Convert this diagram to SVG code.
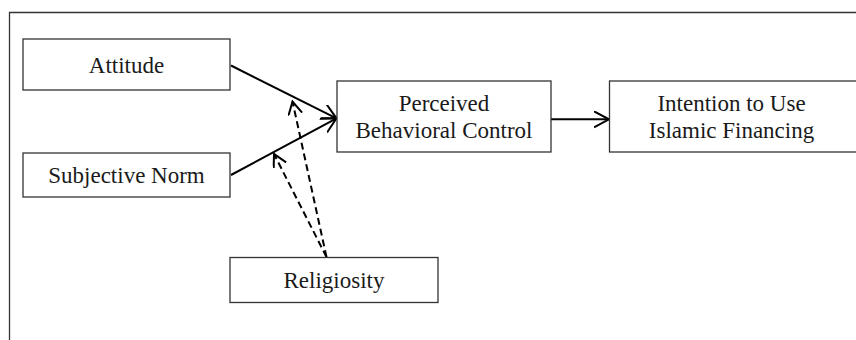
<svg xmlns="http://www.w3.org/2000/svg" width="856" height="340" viewBox="0 0 856 340">
<style>
.box{fill:#fff;stroke:#333;stroke-width:1.3}
.lbl{font-family:"Liberation Serif","Times New Roman",serif;font-size:23px;fill:#1a1a1a;text-anchor:middle}
.edge{fill:none;stroke:#000;stroke-width:2}
.dash{fill:none;stroke:#000;stroke-width:2;stroke-dasharray:7 4}
</style>
<defs>
<marker id="arr" markerUnits="userSpaceOnUse" markerWidth="20" markerHeight="20" refX="15" refY="8" orient="auto">
<path d="M0,0 L15,8 L0,16" fill="none" stroke="#000" stroke-width="2"/>
</marker>
<marker id="arrs" markerUnits="userSpaceOnUse" markerWidth="18" markerHeight="18" refX="13" refY="7" orient="auto">
<path d="M0,0 L13,7 L0,14" fill="none" stroke="#000" stroke-width="2"/>
</marker>
</defs>
<rect width="856" height="340" fill="#fff"/>
<path d="M9.5,340 V12.5 H856" fill="none" stroke="#333" stroke-width="1.3"/>
<g id="connectors">
<line class="edge" x1="231" y1="65.5" x2="336.5" y2="118.3" marker-end="url(#arr)"/>
<line class="edge" x1="231" y1="175" x2="336.5" y2="118.3" marker-end="url(#arr)"/>
<line class="edge" x1="551" y1="119.3" x2="609" y2="119.3" marker-end="url(#arr)"/>
<line class="dash" x1="326.5" y1="257" x2="292.5" y2="101.5" marker-end="url(#arrs)"/>
<line class="dash" x1="326.5" y1="257" x2="274" y2="154" marker-end="url(#arrs)"/>
</g>
<g id="attitude">
<rect class="box" x="23" y="39" width="207" height="51"/>
<text class="lbl" x="126.5" y="72.5">Attitude</text>
</g>
<g id="subjective-norm">
<rect class="box" x="23" y="153" width="207" height="44"/>
<text class="lbl" x="126.5" y="182.5">Subjective Norm</text>
</g>
<g id="pbc">
<rect class="box" x="337" y="81" width="214" height="71"/>
<text class="lbl" x="444" y="111">Perceived</text>
<text class="lbl" x="444" y="138">Behavioral Control</text>
</g>
<g id="intention">
<rect class="box" x="609.5" y="81" width="260" height="71"/>
<text class="lbl" x="731.5" y="111">Intention to Use</text>
<text class="lbl" x="731.5" y="138">Islamic Financing</text>
</g>
<g id="religiosity">
<rect class="box" x="230" y="257.5" width="208" height="45"/>
<text class="lbl" x="334" y="288">Religiosity</text>
</g>
</svg>
